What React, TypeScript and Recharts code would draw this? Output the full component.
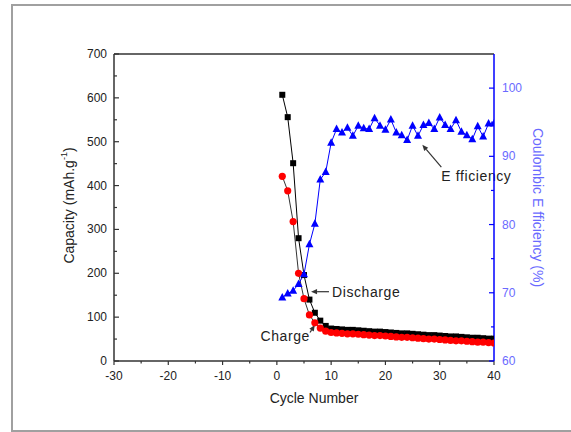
import React from "react";
import {
  ComposedChart,
  Line,
  XAxis,
  YAxis,
  ReferenceLine,
} from "recharts";

// cycle numbers
const cycles = [
  1, 2, 3, 4, 5, 6, 7, 8, 9, 10, 11, 12, 13, 14, 15, 16, 17, 18, 19, 20,
  21, 22, 23, 24, 25, 26, 27, 28, 29, 30, 31, 32, 33, 34, 35, 36, 37, 38, 39, 40,
];

// capacity, mAh/g
const discharge = [
  607, 556, 451, 280, 196, 140, 110, 92, 80, 74, 73, 72, 71, 71, 70, 69, 68, 67, 67, 66,
  65, 64, 63, 63, 62, 61, 60, 59, 59, 58, 57, 56, 56, 55, 54, 53, 53, 52, 51, 51,
];
const charge = [
  421, 388, 318, 200, 142, 105, 87, 75, 68, 65, 64, 63, 62, 62, 61, 60, 59, 58, 58, 57,
  56, 55, 54, 54, 53, 52, 51, 50, 50, 49, 48, 47, 46, 46, 45, 44, 43, 43, 42, 41,
];

// coulombic efficiency, %
const efficiency = [
  69.3, 69.9, 70.3, 71.3, 72.7, 77.1, 80.1, 86.6, 87.7, 92.0, 94.0, 93.5, 94.2, 93.0, 94.5,
  94.1, 94.0, 95.6, 94.5, 93.9, 95.4, 93.5, 93.1, 92.4, 94.5, 93.0, 94.6, 94.9, 94.0, 95.7,
  94.6, 94.0, 95.3, 93.6, 93.1, 92.5, 94.4, 92.9, 94.8, 94.8,
];

// ticks (majors get labels, the rest are minor)
const xTicks = [-30, -25, -20, -15, -10, -5, 0, 5, 10, 15, 20, 25, 30, 35, 40];
const capTicks = [0, 50, 100, 150, 200, 250, 300, 350, 400, 450, 500, 550, 600, 650, 700];
const effTicks = [60, 65, 70, 75, 80, 85, 90, 95, 100];

const data = cycles.map((c, i) => ({
  cycle: c,
  discharge: discharge[i],
  charge: charge[i],
  efficiency: efficiency[i],
}));

const FONT = "'Liberation Sans', Arial, sans-serif";
const AXIS = "#333";
const BLUE = "#0000ff";
const BLUE_TEXT = "#6a6aff";

const LeftTick = ({ x, y, payload }: any) => {
  const major = payload.value % 100 === 0;
  const ax = x + 7;
  return (
    <g>
      <line x1={ax} x2={ax + (major ? 5 : 3)} y1={y} y2={y} stroke={AXIS} strokeWidth={1.2} />
      {major && (
        <text x={x} y={y} dy={4} textAnchor="end" fontSize={12} fill="#222" fontFamily={FONT}>
          {payload.value}
        </text>
      )}
    </g>
  );
};

const RightTick = ({ x, y, payload }: any) => {
  const major = payload.value % 10 === 0;
  const ax = x - 8;
  return (
    <g>
      <line x1={ax} x2={ax - (major ? 5 : 3)} y1={y} y2={y} stroke={BLUE} strokeWidth={1.2} />
      {major && (
        <text x={x} y={y} dy={4} textAnchor="start" fontSize={12} fill={BLUE_TEXT} fontFamily={FONT}>
          {payload.value}
        </text>
      )}
    </g>
  );
};

const BottomTick = ({ x, y, payload }: any) => {
  const major = payload.value % 10 === 0;
  const ay = y - 5;
  return (
    <g>
      <line x1={x} x2={x} y1={ay} y2={ay + (major ? 4 : 2.5)} stroke={AXIS} strokeWidth={1.2} />
      {major && (
        <text x={x} y={y} dy={14} textAnchor="middle" fontSize={12} fill="#222" fontFamily={FONT}>
          {payload.value}
        </text>
      )}
    </g>
  );
};

const LeftTitle = ({ viewBox }: any) => {
  const cx = viewBox.x + 69;
  const cy = viewBox.y + viewBox.height / 2 - 2;
  return (
    <text
      x={cx}
      y={cy}
      transform={`rotate(-90, ${cx}, ${cy})`}
      textAnchor="middle"
      dominantBaseline="central"
      fontSize={14}
      fill="#222"
      fontFamily={FONT}
    >
      Capacity (mAh.g
      <tspan dy={-5} fontSize={9}>-1</tspan>
      <tspan dy={5}>)</tspan>
    </text>
  );
};

const RightTitle = ({ viewBox }: any) => {
  const cx = viewBox.x + 44;
  const cy = viewBox.y + viewBox.height / 2;
  return (
    <text
      x={cx}
      y={cy}
      transform={`rotate(90, ${cx}, ${cy})`}
      textAnchor="middle"
      dominantBaseline="central"
      fontSize={14}
      fill={BLUE_TEXT}
      fontFamily={FONT}
    >
      Coulombic E fficiency (%)
    </text>
  );
};

const BottomTitle = ({ viewBox }: any) => {
  const cx = viewBox.x + viewBox.width / 2 + 10;
  const cy = viewBox.y + 37;
  return (
    <text x={cx} y={cy} textAnchor="middle" dominantBaseline="central" fontSize={14} fill="#222" fontFamily={FONT}>
      Cycle Number
    </text>
  );
};

const Square = ({ cx, cy }: any) => (
  <rect x={cx - 3} y={cy - 3} width={6} height={6} fill="#000" />
);

const Circle = ({ cx, cy }: any) => <circle cx={cx} cy={cy} r={3.6} fill="#ff0000" />;

const Triangle = ({ cx, cy }: any) => (
  <polygon points={`${cx},${cy - 4.5} ${cx - 4},${cy + 3} ${cx + 4},${cy + 3}`} fill={BLUE} />
);

// arrow annotation: text sits at the tail, head at (x2,y2)
const makeArrow = (label: string, anchor: "start" | "end", dx: number, dy: number) => (p: any) => {
  const { x1, y1, x2, y2 } = p;
  const ang = Math.atan2(y2 - y1, x2 - x1);
  const len = 6;
  const w = 2.6;
  const bx = x2 - len * Math.cos(ang);
  const by = y2 - len * Math.sin(ang);
  const nx = -Math.sin(ang) * w;
  const ny = Math.cos(ang) * w;
  return (
    <g>
      <line x1={x1} y1={y1} x2={bx} y2={by} stroke="#333" strokeWidth={1.2} />
      <polygon points={`${x2},${y2} ${bx + nx},${by + ny} ${bx - nx},${by - ny}`} fill="#333" />
      <text
        x={x1 + dx}
        y={y1 + dy}
        textAnchor={anchor}
        dominantBaseline="central"
        fontSize={14}
        letterSpacing={0.6}
        fill="#222"
        fontFamily={FONT}
      >
        {label}
      </text>
    </g>
  );
};

export default function App() {
  return (
    <div style={{ position: "absolute", left: 0, top: 0, width: 571, height: 432, background: "#fff" }}>
      <div
        style={{
          position: "absolute",
          left: 11,
          top: 4,
          width: 580,
          height: 424,
          borderLeft: "2px solid #a0a0a0",
          borderTop: "2px solid #a0a0a0",
          borderBottom: "2px solid #a0a0a0",
        }}
      />
      <div style={{ position: "absolute", left: 0, top: 0 }}>
        <ComposedChart width={571} height={432} data={data} margin={{ top: 54, right: 0, left: 0, bottom: 0 }}>
          <XAxis
            dataKey="cycle"
            type="number"
            domain={[-30, 40]}
            ticks={xTicks}
            interval={0}
            height={71}
            tickLine={false}
            tickSize={0}
            tickMargin={5}
            tick={<BottomTick />}
            axisLine={{ stroke: AXIS, strokeWidth: 1.5 }}
            allowDataOverflow
            label={<BottomTitle />}
          />
          <YAxis
            yAxisId="cap"
            orientation="left"
            domain={[0, 700]}
            ticks={capTicks}
            interval={0}
            width={114}
            tickLine={false}
            tickSize={0}
            tickMargin={7}
            tick={<LeftTick />}
            axisLine={{ stroke: AXIS, strokeWidth: 1.5 }}
            allowDataOverflow
            label={<LeftTitle />}
          />
          <YAxis
            yAxisId="eff"
            orientation="right"
            domain={[60, 105]}
            ticks={effTicks}
            interval={0}
            width={77}
            tickLine={false}
            tickSize={0}
            tickMargin={8}
            tick={<RightTick />}
            axisLine={{ stroke: BLUE, strokeWidth: 1.5 }}
            allowDataOverflow
            label={<RightTitle />}
          />
          <ReferenceLine yAxisId="cap" y={700} stroke={AXIS} strokeWidth={1.5} />
          <Line
            yAxisId="cap"
            dataKey="discharge"
            type="linear"
            stroke="#000"
            strokeWidth={1}
            dot={(p: any) => <Square key={`d-${p.index}`} cx={p.cx} cy={p.cy} />}
            isAnimationActive={false}
          />
          <Line
            yAxisId="cap"
            dataKey="charge"
            type="linear"
            stroke="#333"
            strokeWidth={1}
            dot={(p: any) => <Circle key={`c-${p.index}`} cx={p.cx} cy={p.cy} />}
            isAnimationActive={false}
          />
          <Line
            yAxisId="eff"
            dataKey="efficiency"
            type="linear"
            stroke={BLUE}
            strokeWidth={1}
            dot={(p: any) => <Triangle key={`e-${p.index}`} cx={p.cx} cy={p.cy} />}
            isAnimationActive={false}
          />
          <ReferenceLine
            yAxisId="cap"
            segment={[{ x: 9.6, y: 158 }, { x: 6.3, y: 158 }]}
            shape={makeArrow("Discharge", "start", 3, 0)}
          />
          <ReferenceLine
            yAxisId="cap"
            segment={[{ x: 6.1, y: 65 }, { x: 7.0, y: 82 }]}
            shape={makeArrow("Charge", "end", 0, 4)}
          />
          <ReferenceLine
            yAxisId="cap"
            segment={[{ x: 30.3, y: 442 }, { x: 26.8, y: 493 }]}
            shape={makeArrow("E fficiency", "start", 0, 9)}
          />
        </ComposedChart>
      </div>
    </div>
  );
}
